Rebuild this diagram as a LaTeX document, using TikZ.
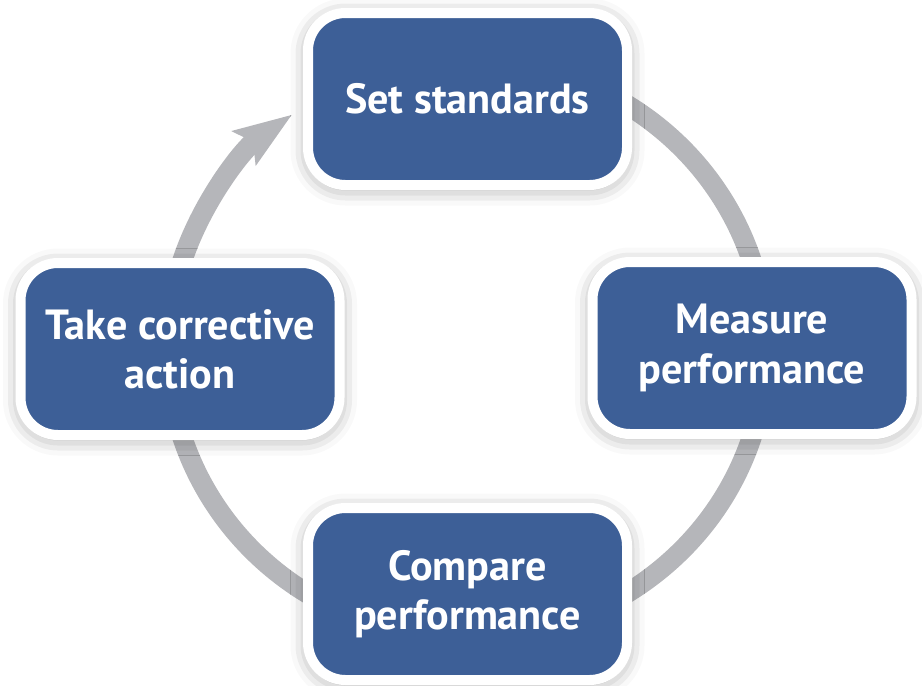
\documentclass[tikz,border=0pt]{standalone}
\usepackage{fontspec}
\setmainfont{PT Sans}
\usepackage{tikz}
\usetikzlibrary{calc}
\usetikzlibrary{arrows.meta}
\usetikzlibrary{shadows.blur}
\definecolor{boxblue}{RGB}{61,95,151}
\definecolor{ringgray}{RGB}{181,182,186}
\tikzset{stepbox/.style={rectangle, draw=white, line width=0.2cm, fill=boxblue, rounded corners=0.75cm, minimum width=6.38cm, minimum height=3.44cm, text=white, align=center, font=\fontsize{24}{28}\selectfont\bfseries, blur shadow={shadow xshift=0cm, shadow yshift=-0.06cm, shadow blur radius=0.35cm, shadow opacity=40}}}

\begin{document}
\begin{tikzpicture}

\useasboundingbox (0,0) rectangle (18.44,-13.7);
%\draw[step=1cm, gray, very thin, dotted] (0,0) grid (18,-13);

\coordinate (hub) at (9.34,-6.98);
\draw[ringgray, line width=0.4cm, -{Stealth[length=1.15cm, width=0.8cm, inset=0.2cm]}] (hub) ++(70:5.98 and 5.78) arc[start angle=70, end angle=-234.2, x radius=5.98, y radius=5.78];

\node at (9.35,-1.98) [stepbox] (setstd) {Set standards};
\node at (15.04,-6.96) [stepbox] (measure) {Measure\\performance};
\node at (9.35,-11.88) [stepbox] (compare) {Compare\\performance};
\node at (3.6,-6.98) [stepbox] (correct) {Take corrective\\action};

\end{tikzpicture}
\end{document}
